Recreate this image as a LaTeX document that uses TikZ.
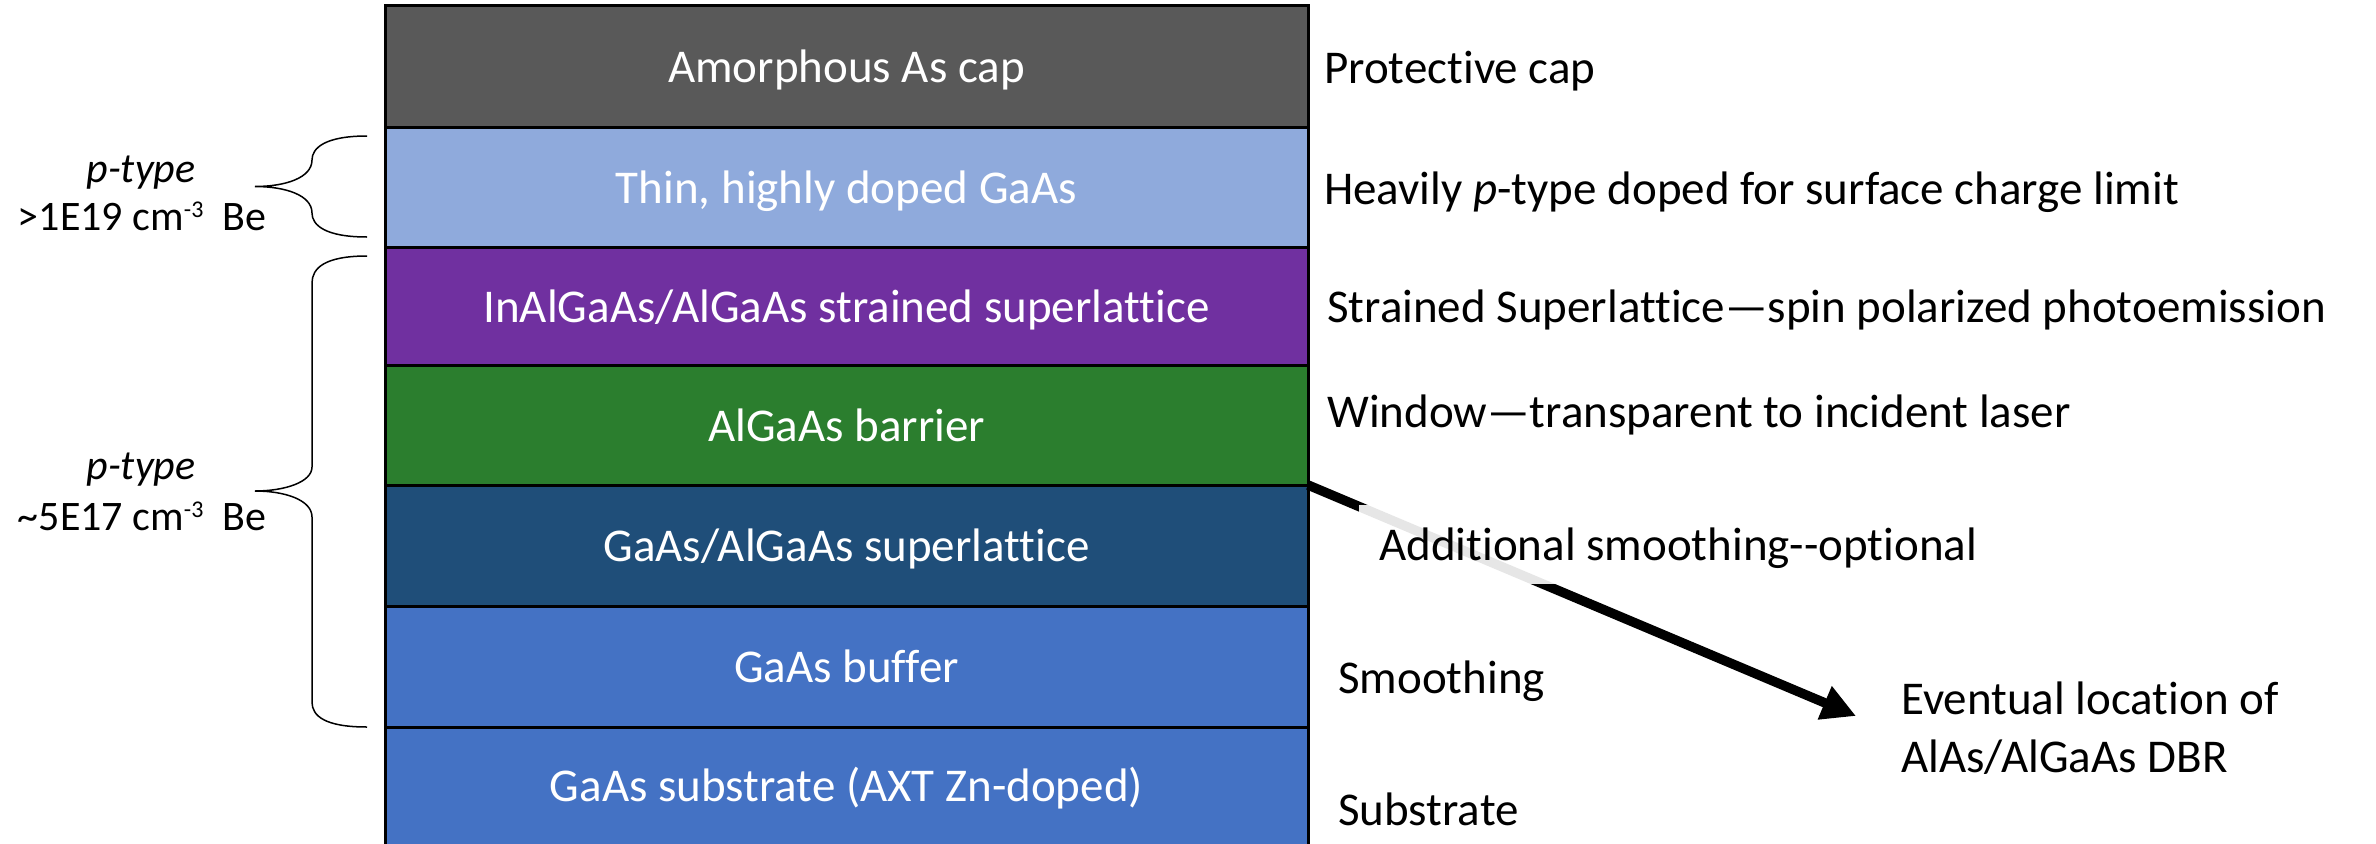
\documentclass[tikz,border=0pt]{standalone}
\usepackage{fontspec}
\setmainfont{Carlito}[Ligatures={TeX,NoCommon,NoContextual},Contextuals={NoAlternate}]
\usetikzlibrary{arrows.meta}
\definecolor{capgray}{HTML}{595959}
\definecolor{lightblue}{HTML}{8FAADC}
\definecolor{slpurple}{HTML}{7030A0}
\definecolor{barriergreen}{HTML}{2B7E2E}
\definecolor{sldark}{HTML}{1F4E79}
\definecolor{gaasblue}{HTML}{4472C4}
\newcommand{\mysup}[1]{\raisebox{13pt}{\fontsize{24}{24}\selectfont #1}}
\begin{document}
\begin{tikzpicture}[x=1pt,y=-1pt,
  layer/.style={draw=black, line width=3pt, minimum width=923pt, inner sep=0pt,
    outer sep=0pt, text=white, font=\fontsize{47}{57}\selectfont,
    text height=36pt, text depth=4pt},
  layertext/.style={anchor=base, inner sep=0pt, text=white, font=\fontsize{47}{57}\selectfont},
  rlabel/.style={anchor=base west, inner sep=0pt, font=\fontsize{47}{57}\selectfont},
  llabel/.style={anchor=base, inner sep=0pt, font=\fontsize{42}{48}\selectfont},
  braceline/.style={line width=1.5pt, black},
  arrowline/.style={line width=9.5pt, black, -{Triangle[length=34pt,width=34pt]}}]
\useasboundingbox (0,0) rectangle (2376,843);
\clip (0,0) rectangle (2376,843);

% layer stack
\node[layer, fill=capgray, minimum height=121pt] (cap) at (846.5,66.5) {Amorphous As cap};
\node[layer, fill=lightblue, minimum height=120pt] (thin) at (846.5,187) {Thin, highly doped GaAs};
\node[layer, fill=slpurple, minimum height=118pt] (ssl) at (846.5,306) {InAlGaAs/AlGaAs strained superlattice};
\node[layer, fill=barriergreen, minimum height=120pt] (barrier) at (846.5,425) {AlGaAs barrier};
\node[layer, fill=sldark, minimum height=121pt] (gsl) at (846.5,545.5) {GaAs/AlGaAs superlattice};
\node[layer, fill=gaasblue, minimum height=121pt] (buffer) at (846.5,666.5) {GaAs buffer};
\node[layer, fill=gaasblue, minimum height=153pt] (substrate) at (846.5,803.5) {};
\node[layertext] (subtext) at (846.5,801) {GaAs substrate (AXT Zn-doped)};

% arrow to the DBR location
\coordinate (aend) at (1856,716);
\draw[arrowline] (barrier.south east) -- (aend);

% right-hand labels
\node[rlabel] (lprot) at (1324,83) {Protective cap};
\node[rlabel] (lheavy) at (1324,204) {Heavily \textit{p}-type doped for surface charge limit};
\node[rlabel] (lstrain) at (1327,322) {Strained Superlattice—spin polarized photoemission};
\node[rlabel] (lwindow) at (1327,427) {Window—transparent to incident laser};
\node[anchor=west, inner xsep=20pt, inner ysep=0pt, minimum height=79pt,
  fill=white, fill opacity=0.9, text opacity=1, font=\fontsize{47}{57}\selectfont,
  text height=36pt, text depth=4pt] (ladd) at (1359,544) {Additional smoothing-{}-optional};
\node[rlabel] (lsmooth) at (1338,693) {Smoothing};
\node[rlabel] (lsubst) at (1338,825) {Substrate};
\node[rlabel] (levent1) at (1901,714) {Eventual location of};
\node[rlabel] (levent2) at (1901,772) {AlAs/AlGaAs DBR};

% left-hand doping labels
\node[llabel] (ptop) at (141,182) {\itshape p-type};
\node[llabel] (dtop) at (142,230) {>1E19 cm\mysup{-3}\hspace{0.45em}Be};
\node[llabel] (pbot) at (141,479) {\itshape p-type};
\node[llabel] (dbot) at (142,530) {\textasciitilde 5E17 cm\mysup{-3}\hspace{0.45em}Be};

% braces
\draw[braceline] (367,136) .. controls (325,136) and (312,148) .. (312,160)
  .. controls (312,178) and (285,186.5) .. (255,186.5)
  .. controls (285,186.5) and (312,195) .. (312,213)
  .. controls (312,225) and (325,237) .. (367,237);
\draw[braceline] (367,256) .. controls (325,256) and (312,268) .. (312,283)
  -- (312,467) .. controls (312,482) and (285,491) .. (255,491)
  .. controls (285,491) and (312,500) .. (312,517)
  -- (312,702) .. controls (312,716) and (325,727) .. (367,727);
\end{tikzpicture}
\end{document}
